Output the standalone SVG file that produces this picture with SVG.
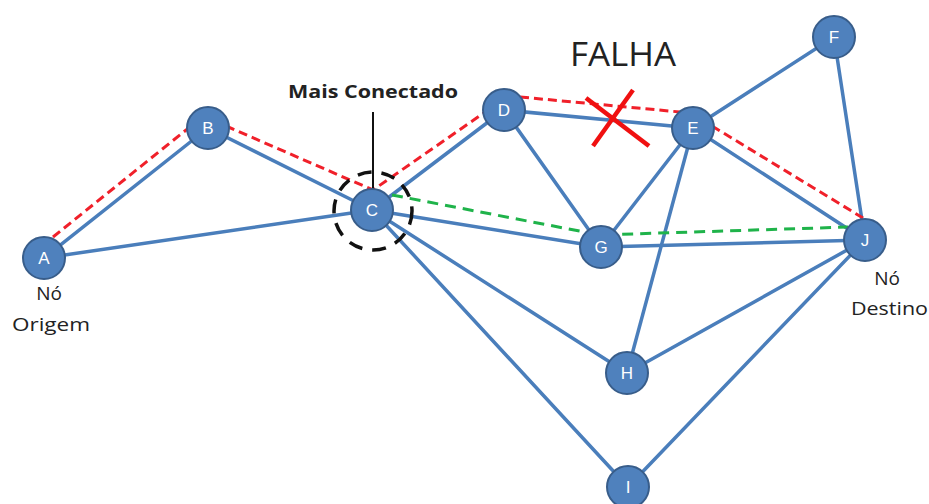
<svg xmlns="http://www.w3.org/2000/svg" width="929" height="504" viewBox="0 0 929 504">
<style>
.e{stroke:#4a7ebb;stroke-width:3.5;fill:none;stroke-linecap:round}
.r{stroke:#f0202a;stroke-width:3;stroke-dasharray:9 5;fill:none}
.g{stroke:#1fb34a;stroke-width:3;stroke-dasharray:11 7;fill:none}
.n circle{fill:#4f81bd;stroke:#385d8a;stroke-width:2}
.n text{fill:#fff;font-family:"Liberation Sans",Arial,sans-serif;font-size:17px;text-anchor:middle}
.t{font-family:"Open Sans","Liberation Sans",sans-serif;fill:#222}
</style>
<rect width="929" height="504" fill="#fff"/>
<g id="connectors">
<line class="e" x1="44" y1="258" x2="208" y2="128"/>
<line class="e" x1="44" y1="258" x2="372" y2="210"/>
<line class="e" x1="208" y1="128" x2="372" y2="210"/>
<line class="e" x1="372" y1="210" x2="504" y2="110"/>
<line class="e" x1="372" y1="210" x2="601" y2="247"/>
<line class="e" x1="372" y1="210" x2="627" y2="373"/>
<line class="e" x1="372" y1="210" x2="628" y2="487"/>
<line class="e" x1="504" y1="110" x2="693" y2="128"/>
<line class="e" x1="504" y1="110" x2="601" y2="247"/>
<line class="e" x1="693" y1="128" x2="834" y2="37"/>
<line class="e" x1="693" y1="128" x2="601" y2="247"/>
<line class="e" x1="693" y1="128" x2="627" y2="373"/>
<line class="e" x1="693" y1="128" x2="865" y2="240"/>
<line class="e" x1="834" y1="37" x2="865" y2="240"/>
<line class="e" x1="601" y1="247" x2="865" y2="240"/>
<line class="e" x1="627" y1="373" x2="865" y2="240"/>
<line class="e" x1="628" y1="487" x2="865" y2="240"/>
<polyline class="r" points="53,237 196,122"/>
<polyline class="r" points="226,126 373,190 488,110"/>
<polyline class="r" points="520,97 680,112"/>
<polyline class="r" points="712,126 863,218"/>
<polyline class="g" points="392,195 600,235 848,227"/>
<circle cx="373" cy="211" r="39" fill="none" stroke="#111" stroke-width="3.5" stroke-dasharray="14 10"/>
<line x1="373" y1="112" x2="373" y2="190" stroke="#111" stroke-width="2"/>
<line x1="586" y1="98" x2="649" y2="146" stroke="#f01010" stroke-width="4.5"/>
<line x1="633" y1="90" x2="593" y2="146" stroke="#f01010" stroke-width="4.5"/>
</g>
<g id="A" class="n"><circle cx="44" cy="258" r="21"/><text x="44" y="264">A</text></g>
<g id="B" class="n"><circle cx="208" cy="128" r="21"/><text x="208" y="134">B</text></g>
<g id="C" class="n"><circle cx="372" cy="210" r="21"/><text x="372" y="216">C</text></g>
<g id="D" class="n"><circle cx="504" cy="110" r="21"/><text x="504" y="116">D</text></g>
<g id="E" class="n"><circle cx="693" cy="128" r="21"/><text x="693" y="134">E</text></g>
<g id="F" class="n"><circle cx="834" cy="37" r="21"/><text x="834" y="43">F</text></g>
<g id="G" class="n"><circle cx="601" cy="247" r="21"/><text x="601" y="253">G</text></g>
<g id="H" class="n"><circle cx="627" cy="373" r="21"/><text x="627" y="379">H</text></g>
<g id="I" class="n"><circle cx="628" cy="487" r="21"/><text x="628" y="493">I</text></g>
<g id="J" class="n"><circle cx="865" cy="240" r="21"/><text x="865" y="246">J</text></g>
<g id="labels">
<text class="t" x="288" y="98" font-size="18" font-weight="bold" textLength="170" lengthAdjust="spacingAndGlyphs">Mais Conectado</text>
<text class="t" x="570" y="66" font-size="33" textLength="106" lengthAdjust="spacingAndGlyphs">FALHA</text>
<text class="t" x="49" y="300" font-size="19" text-anchor="middle">Nó</text>
<text class="t" x="12" y="331" font-size="19" textLength="78" lengthAdjust="spacingAndGlyphs">Origem</text>
<text class="t" x="887" y="285" font-size="19" text-anchor="middle">Nó</text>
<text class="t" x="851" y="315" font-size="19" textLength="77" lengthAdjust="spacingAndGlyphs">Destino</text>
</g>
</svg>
